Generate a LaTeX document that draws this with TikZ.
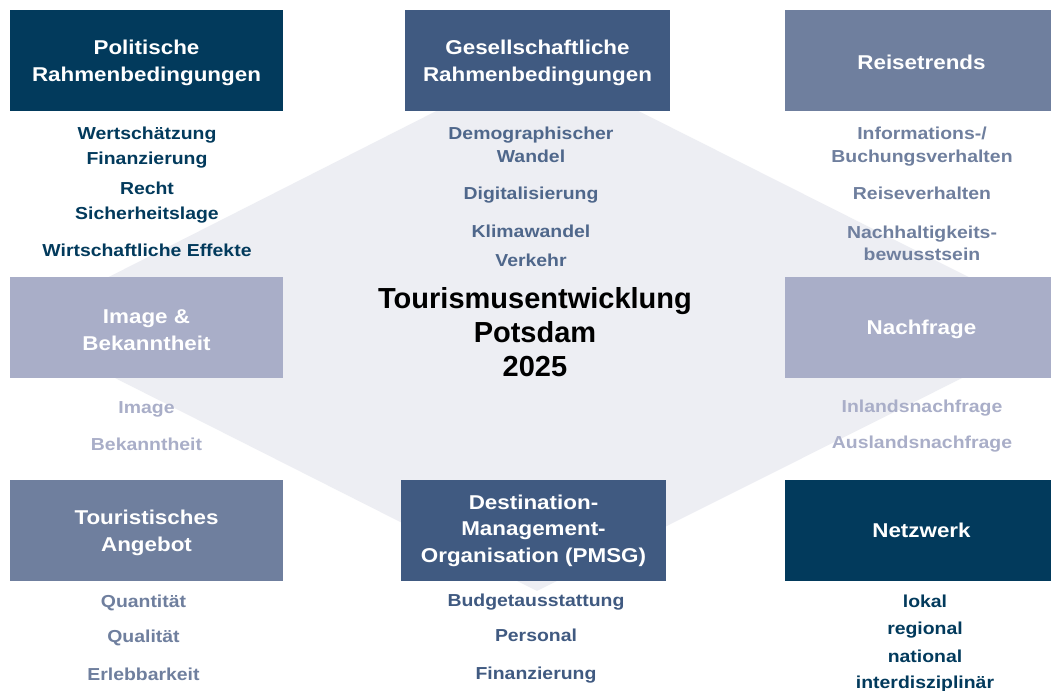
\documentclass[tikz,border=0pt]{standalone}
\usepackage{fontspec}
\setmainfont{Liberation Sans}[FakeStretch=1.12]
\newfontfamily\centerfont{Liberation Sans}
\definecolor{navy}{HTML}{023A5C}
\definecolor{midblue}{HTML}{405A81}
\definecolor{slate}{HTML}{6F7F9E}
\definecolor{lightblue}{HTML}{A9AEC8}
\definecolor{diam}{HTML}{EDEEF3}
\begin{document}
\begin{tikzpicture}[x=0.75pt,y=-0.75pt,
  box/.style={minimum width=204.75pt, minimum height=75.75pt, inner sep=0pt,
    text=white, align=center, font=\bfseries\fontsize{15}{20.3}\selectfont},
  narrowbox/.style={box, minimum width=198.75pt},
  item/.style={anchor=base, inner sep=0pt, font=\bfseries\fontsize{13}{15}\selectfont}]
\useasboundingbox (0,0) rectangle (1051,691);
\clip (0,0) rectangle (1051,691);
\fill[white] (0,0) rectangle (1051,691);
% background diamond
\coordinate (dt) at (537,60);
\coordinate (dr) at (1066,326);
\coordinate (db) at (537,591);
\coordinate (dl) at (12,326);
\fill[diam] (dt) -- (dr) -- (db) -- (dl) -- cycle;
% boxes
\node[box, fill=navy] (pol) at (146.5,60.5) {\rule{0pt}{15pt}Politische\\Rahmenbedingungen};
\node[narrowbox, fill=midblue] (ges) at (537.5,60.5) {\rule{0pt}{15pt}Gesellschaftliche\\Rahmenbedingungen};
\node[box, fill=slate] (reise) at (921.5,60.5) {\rule{0pt}{14pt}Reisetrends};
\node[box, fill=lightblue] (img) at (146.5,327.5) {\rule{0pt}{15pt}Image \&\\Bekanntheit};
\node[box, fill=lightblue] (nach) at (921.5,327.5) {\rule{0pt}{14pt}Nachfrage};
\node[box, fill=slate] (tour) at (146.5,530.5) {\rule{0pt}{15pt}Touristisches\\Angebot};
\node[narrowbox, fill=midblue, font=\bfseries\fontsize{15}{19.8}\selectfont] (dmo) at (533.5,530.5) {Destination-\\Management-\\Organisation (PMSG)};
\node[box, fill=navy] (netz) at (921.5,530.5) {Netzwerk};
% centre title
\node[inner sep=0pt, align=center, font=\centerfont\bfseries\fontsize{21.75}{25.6}\selectfont] (title) at (535,332) {Tourismusentwicklung\\Potsdam\\2025};
% Politische items
\begin{scope}[every node/.style={item, text=navy}]
\node (p1) at (147,139.5) {Wertschätzung};
\node (p2) at (147,165) {Finanzierung};
\node (p3) at (147,195) {Recht};
\node (p4) at (147,220) {Sicherheitslage};
\node (p5) at (147,256.5) {Wirtschaftliche Effekte};
\end{scope}
% Gesellschaftliche items
\begin{scope}[every node/.style={item, text=midblue!92!white}]
\node (g1) at (531,140) {Demographischer};
\node (g2) at (531,162.5) {Wandel};
\node (g3) at (531,199.5) {Digitalisierung};
\node (g4) at (531,238) {Klimawandel};
\node (g5) at (531,266.5) {Verkehr};
\end{scope}
% Reisetrends items
\begin{scope}[every node/.style={item, text=slate}]
\node (r1) at (922,140) {Informations-/};
\node (r2) at (922,162.7) {Buchungsverhalten};
\node (r3) at (922,200) {Reiseverhalten};
\node (r4) at (922,238.3) {Nachhaltigkeits-};
\node (r5) at (922,261) {bewusstsein};
\end{scope}
% Image and Nachfrage items
\begin{scope}[every node/.style={item, text=lightblue}]
\node (i1) at (146.5,414) {Image};
\node (i2) at (146.5,451) {Bekanntheit};
\node (n1) at (922,412.7) {Inlandsnachfrage};
\node (n2) at (922,449) {Auslandsnachfrage};
\end{scope}
% Touristisches items
\begin{scope}[every node/.style={item, text=slate}]
\node (t1) at (143.5,608) {Quantität};
\node (t2) at (143.5,643) {Qualität};
\node (t3) at (143.5,680.5) {Erlebbarkeit};
\end{scope}
% DMO items
\begin{scope}[every node/.style={item, text=midblue}]
\node (m1) at (536,607) {Budgetausstattung};
\node (m2) at (536,642) {Personal};
\node (m3) at (536,680) {Finanzierung};
\end{scope}
% Netzwerk items
\begin{scope}[every node/.style={item, text=navy}]
\node (w1) at (925,607.5) {lokal};
\node (w2) at (925,634.5) {regional};
\node (w3) at (925,662.5) {national};
\node (w4) at (925,688.5) {interdisziplinär};
\end{scope}
\end{tikzpicture}
\end{document}
